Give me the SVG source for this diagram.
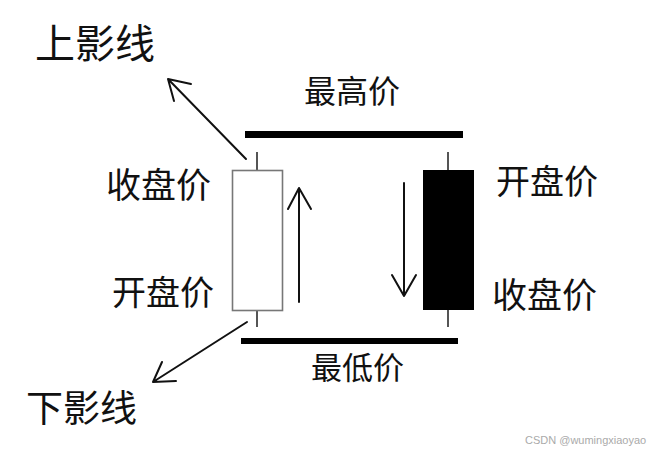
<svg xmlns="http://www.w3.org/2000/svg" width="649" height="455" viewBox="0 0 649 455">
<style>
.t{font-family:"Noto Sans CJK SC","Noto Sans",sans-serif;fill:#111}
.ln{stroke:#111;stroke-width:2;fill:none;stroke-linecap:round;stroke-linejoin:round}
.bar{fill:#000}
.wick{stroke:#555;stroke-width:2}
</style>
<rect width="649" height="455" fill="#fff"/>
<g id="high-bar"><rect class="bar" x="245" y="131" width="218" height="7"/></g>
<g id="low-bar"><rect class="bar" x="241" y="338" width="217" height="6"/></g>
<g id="white-candle">
<line class="wick" x1="257" y1="152" x2="257" y2="170"/>
<line class="wick" x1="257" y1="311" x2="257" y2="327"/>
<rect x="232.5" y="170.5" width="50" height="140" fill="#fff" stroke="#777" stroke-width="1.6"/>
</g>
<g id="black-candle">
<line class="wick" x1="448" y1="152" x2="448" y2="170"/>
<line class="wick" x1="448" y1="310" x2="448" y2="327"/>
<rect x="423" y="170" width="51" height="140" fill="#000"/>
</g>
<g id="connectors">
<path class="ln" d="M246 159 L168 79 M191 84 L168 79 L174 101"/>
<path class="ln" d="M247 322 L153 382 M162 362 L153 382 L176 381"/>
<path class="ln" d="M299 302 L299 188 M288 209 L299 188 L311 209"/>
<path class="ln" d="M404 183 L404 296 M392 275 L404 296 L416 275"/>
</g>
<g id="upper-shadow"><text class="t" x="35" y="58" font-size="40">上影线</text></g>
<g id="lower-shadow"><text class="t" x="26" y="422" font-size="37">下影线</text></g>
<g id="high"><text class="t" x="304" y="103" font-size="32">最高价</text></g>
<g id="low"><text class="t" x="311" y="379" font-size="31">最低价</text></g>
<g id="close-left"><text class="t" x="106" y="198" font-size="35">收盘价</text></g>
<g id="open-left"><text class="t" x="112" y="305" font-size="34">开盘价</text></g>
<g id="open-right"><text class="t" x="496" y="194" font-size="34">开盘价</text></g>
<g id="close-right"><text class="t" x="492" y="308" font-size="35">收盘价</text></g>
<g id="watermark"><text x="525" y="444" font-family="Liberation Sans,sans-serif" font-size="11" fill="#aaa">CSDN @wumingxiaoyao</text></g>
</svg>
